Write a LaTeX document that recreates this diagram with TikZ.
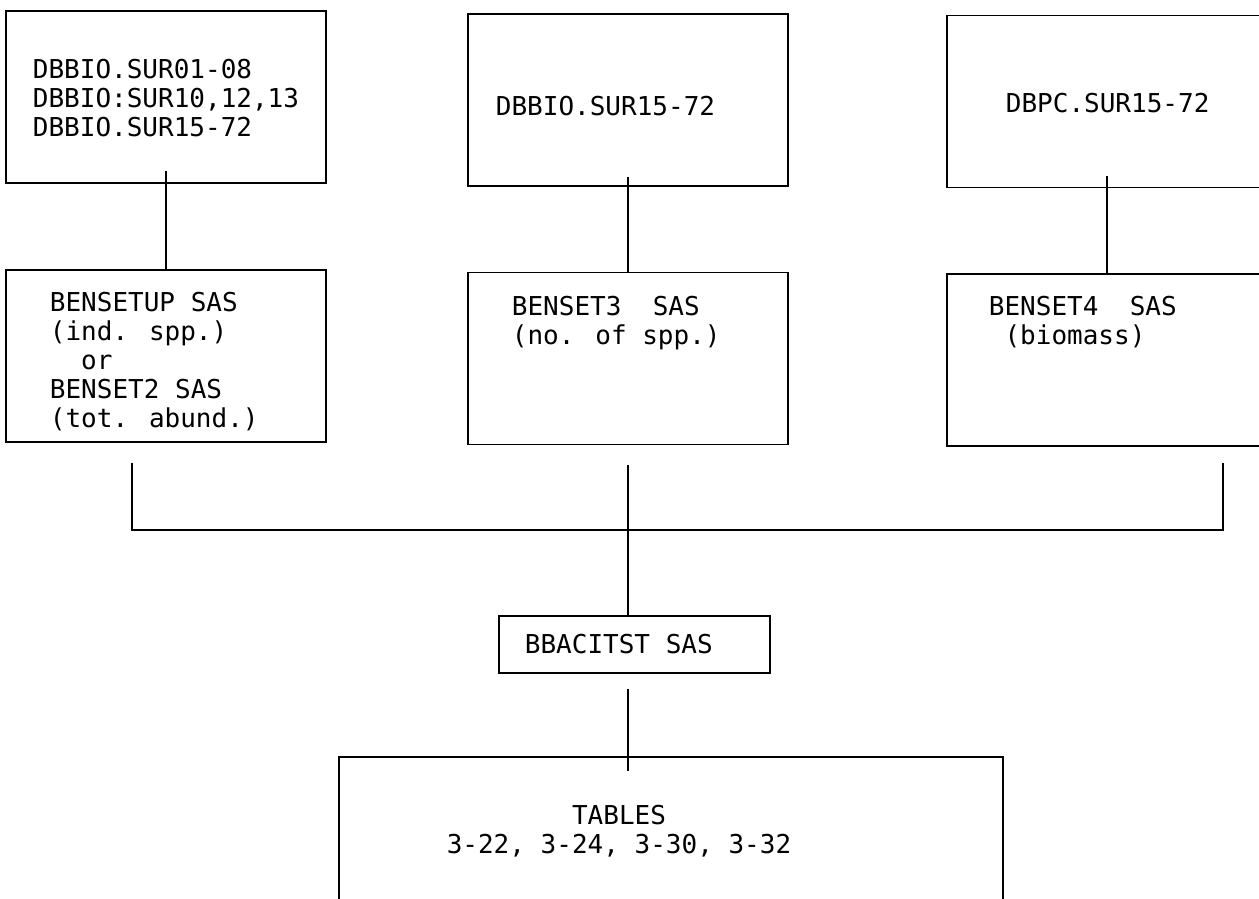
\documentclass[tikz,border=0pt]{standalone}
\usepackage{fontspec}
\newfontfamily\flowfont{DejaVu Sans Mono}
\usepackage{tikz}
\usetikzlibrary{positioning, calc}
\tikzset{
  flowbox/.style={draw, line width=0.5pt, minimum width=3.2cm, minimum height=1.72cm, inner sep=0pt},
  flowtext/.style={font=\flowfont\fontsize{7.4}{8.3}\selectfont, align=left, anchor=north west, inner sep=0pt},
}

\begin{document}
\begin{tikzpicture}[x=1cm, y=1cm, line width=0.5pt]
\clip (0,0) rectangle (12.59,8.99);

% top row: data sets
\node[flowbox] (b1) at (1.66,8.02) {};
\node[flowbox] (b3) at (6.28,7.99) {};
\node[flowbox] (b5) at (11.07,7.975) {};
\node[flowtext] (t1) at (0.32,8.41) {DBBIO.SUR01-08\\DBBIO:SUR10,12,13\\DBBIO.SUR15-72};
\node[flowtext] (t3) at (4.95,8.04) {DBBIO.SUR15-72};
\node[flowtext] (t5) at (10.05,8.07) {DBPC.SUR15-72};

% second row: setup programs
\node[flowbox] (b2) at (1.66,5.43) {};
\node[flowbox] (b4) at (6.28,5.405) {};
\node[flowbox] (b6) at (11.07,5.39) {};
\node[flowtext] (t2) at (0.49,6.08) {BENSETUP SAS\\(ind. spp.)\\\ \ or\\BENSET2 SAS\\(tot. abund.)};
\node[flowtext] (t4) at (5.11,6.04) {BENSET3\ \ SAS\\(no. of spp.)};
\node[flowtext] (t6) at (9.88,6.04) {BENSET4\ \ SAS\\\ (biomass)};

% combine + tables
\node[flowbox, minimum width=2.71cm, minimum height=0.57cm] (bb) at (6.345,2.545) {};
\node[flowtext] (tb) at (5.24,2.66) {BBACITST SAS};
\node[flowbox, minimum width=6.64cm, minimum height=1.92cm] (tab) at (6.71,0.46) {};
\node[flowtext, align=center, anchor=north] (tt) at (6.19,0.95) {TABLES\\3-22, 3-24, 3-30, 3-32};

% connectors
\draw ([yshift=0.13cm]b1.south) -- (b2.north);
\draw ([yshift=0.10cm]b3.south) -- (b4.north);
\draw ([yshift=0.12cm]b5.south) -- (b6.north);

\coordinate (busL) at ([xshift=1.27cm,yshift=-0.2cm]b2.south west);
\coordinate (busR) at ([xshift=-0.45cm,yshift=-0.16cm]b6.south east);
\coordinate (bus) at (6.27,3.69);
\draw (busL) |- (bus) -| (busR);
\draw ([yshift=-0.2cm]b4.south) -- (b4.south |- bb.north);

\coordinate (bbfoot) at ($(bb.south -| b4.south)+(0,-0.15)$);
\coordinate (tabtop) at ($(tab.north -| b4.south)+(0,-0.15)$);
\draw (bbfoot) -- (tabtop);
\end{tikzpicture}
\end{document}
